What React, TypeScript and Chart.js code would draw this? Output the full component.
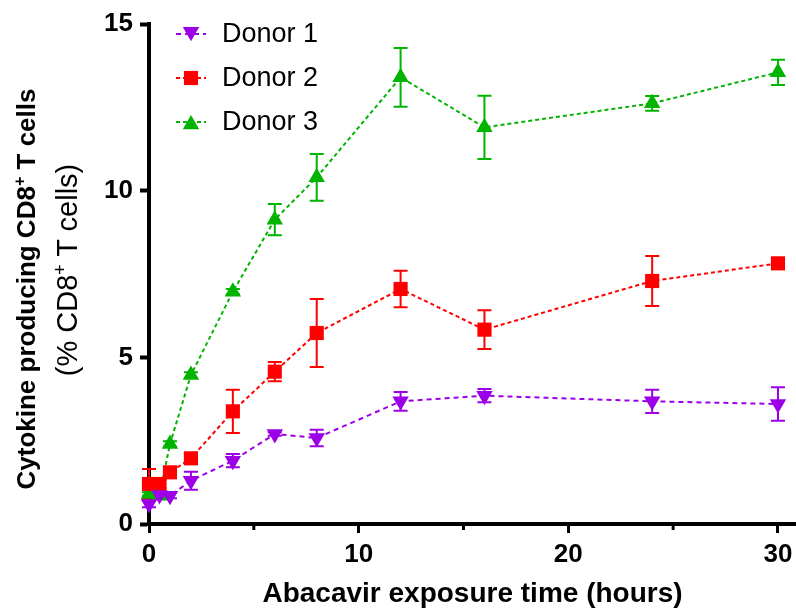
import React, { useEffect, useRef } from 'react';
import { Chart, registerables } from 'chart.js';

Chart.register(...registerables);

// ---------- data ----------
const hours = [0, 0.5, 1, 2, 4, 6, 8, 12, 16, 24, 30];

const donor1Mean = [0.6, 0.87, 0.85, 1.3, 1.9, 2.7, 2.58, 3.68, 3.85, 3.68, 3.6];
const donor1Err = [0.1, 0.08, 0.08, 0.27, 0.2, 0.05, 0.25, 0.28, 0.2, 0.35, 0.5];

const donor2Mean = [1.2, 1.2, 1.55, 1.97, 3.38, 4.57, 5.73, 7.05, 5.83, 7.29, 7.82];
const donor2Err = [0.45, 0.12, 0.12, 0.12, 0.65, 0.29, 1.02, 0.55, 0.58, 0.75, 0.05];

const donor3Mean = [0.9, 0.85, 2.4, 4.47, 6.97, 9.13, 10.4, 13.4, 11.9, 12.62, 13.55];
const donor3Err = [0.05, 0.05, 0.08, 0.08, 0.08, 0.47, 0.7, 0.88, 0.95, 0.22, 0.38];

const seriesNames = ['Donor 1', 'Donor 2', 'Donor 3'];
const seriesColors = ['#9c00e8', '#ff0000', '#00b400'];

const xTickValues = [0, 5, 10, 15, 20, 25, 30];
const xTickLabels = ['0', '', '10', '', '20', '', '30'];
const yTickValues = [0, 5, 10, 15];

const xTitle = 'Abacavir exposure time (hours)';

// ---------- helpers ----------
const FONT = "'Liberation Sans', Arial, Helvetica, sans-serif";
const TICK_FONT = "'Liberation Sans Narrow', 'Liberation Sans', Arial, sans-serif";

function drawMarker(ctx: CanvasRenderingContext2D, style: string, x: number, y: number, r: number, rotDeg: number, color: string) {
  ctx.save();
  ctx.fillStyle = color;
  ctx.beginPath();
  if (style === 'rect') {
    const s = Math.SQRT1_2 * r;
    ctx.rect(x - s, y - s, 2 * s, 2 * s);
  } else {
    let rad = (rotDeg * Math.PI) / 180;
    ctx.moveTo(x + Math.sin(rad) * r, y - Math.cos(rad) * r);
    rad += (2 * Math.PI) / 3;
    ctx.lineTo(x + Math.sin(rad) * r, y - Math.cos(rad) * r);
    rad += (2 * Math.PI) / 3;
    ctx.lineTo(x + Math.sin(rad) * r, y - Math.cos(rad) * r);
    ctx.closePath();
  }
  ctx.fill();
  ctx.restore();
}

const errorBarPlugin = {
  id: 'errorBars',
  beforeDatasetsDraw(chart: any) {
    const { ctx, scales } = chart;
    const xs = scales.x;
    const ys = scales.y;
    chart.data.datasets.forEach((ds: any) => {
      const errs: number[] = ds.errors;
      ctx.save();
      ctx.strokeStyle = ds.borderColor;
      ctx.lineWidth = 2;
      ctx.setLineDash([]);
      ds.data.forEach((p: any, j: number) => {
        const e = errs[j];
        if (!e) return;
        const px = xs.getPixelForValue(p.x);
        const top = ys.getPixelForValue(p.y + e);
        const bot = ys.getPixelForValue(p.y - e);
        const cap = 7;
        ctx.beginPath();
        ctx.moveTo(px, top);
        ctx.lineTo(px, bot);
        ctx.moveTo(px - cap, top);
        ctx.lineTo(px + cap, top);
        ctx.moveTo(px - cap, bot);
        ctx.lineTo(px + cap, bot);
        ctx.stroke();
      });
      ctx.restore();
    });
  },
};

const minorTickPlugin = {
  id: 'minorTicks',
  afterDraw(chart: any) {
    const { ctx } = chart;
    const xs = chart.scales.x;
    ctx.save();
    ctx.strokeStyle = '#000';
    ctx.lineWidth = 3;
    xTickValues.forEach((v, i) => {
      if (xTickLabels[i] !== '') return;
      const px = xs.getPixelForValue(v);
      ctx.beginPath();
      ctx.moveTo(px, xs.top);
      ctx.lineTo(px, xs.top + 6);
      ctx.stroke();
    });
    ctx.restore();
  },
};

const legendPlugin = {
  id: 'insideLegend',
  afterDraw(chart: any) {
    const { ctx } = chart;
    chart.data.datasets.forEach((ds: any, i: number) => {
      const cy = 34 + i * 44;
      ctx.save();
      ctx.strokeStyle = ds.borderColor;
      ctx.lineWidth = 2;
      ctx.setLineDash(ds.borderDash);
      ctx.beginPath();
      ctx.moveTo(176, cy);
      ctx.lineTo(206, cy);
      ctx.stroke();
      ctx.setLineDash([]);
      const r = ds.pointRadius;
      const shift = ds.pointStyle === 'rect' ? 0 : (ds.pointRotation === 180 ? -r / 4 : r / 4);
      drawMarker(ctx, ds.pointStyle, 191, cy + shift, r, ds.pointRotation || 0, ds.backgroundColor);
      ctx.fillStyle = '#000';
      ctx.font = `27px ${FONT}`;
      ctx.textBaseline = 'middle';
      ctx.textAlign = 'left';
      ctx.fillText(ds.label, 222, cy + 1);
      ctx.restore();
    });
  },
};

function makeDataset(i: number, means: number[], errs: number[], style: string, radius: number, rotation: number, dash: number[]) {
  return {
    label: seriesNames[i],
    data: hours.map((h, j) => ({ x: h, y: means[j] })),
    errors: errs,
    borderColor: seriesColors[i],
    backgroundColor: seriesColors[i],
    borderWidth: 2,
    borderDash: dash,
    pointStyle: style,
    pointRadius: radius,
    pointHoverRadius: radius,
    pointRotation: rotation,
    pointBorderWidth: 0,
    pointBackgroundColor: seriesColors[i],
    tension: 0,
    clip: false as any,
  };
}

export default function App() {
  const canvasRef = useRef<HTMLCanvasElement | null>(null);

  useEffect(() => {
    document.body.style.margin = '0';
    const canvas = canvasRef.current;
    if (!canvas) return;
    const chart = new Chart(canvas, {
      type: 'line',
      data: {
        datasets: [
          makeDataset(0, donor1Mean, donor1Err, 'triangle', 9.5, 180, [5, 4]),
          makeDataset(1, donor2Mean, donor2Err, 'rect', 10, 0, [4, 3]),
          makeDataset(2, donor3Mean, donor3Err, 'triangle', 9.5, 0, [4, 3]),
        ] as any,
      },
      options: {
        responsive: false,
        animation: false,
        events: [],
        layout: { autoPadding: false, padding: { top: 24, left: 0, right: 0, bottom: 0 } },
        plugins: {
          legend: { display: false },
          tooltip: { enabled: false },
        },
        scales: {
          x: {
            type: 'linear',
            min: 0,
            max: 30.86,
            afterFit(scale: any) {
              scale.height = 84;
              scale.paddingLeft = 0;
              scale.paddingRight = 0;
            },
            afterBuildTicks(scale: any) {
              scale.ticks = xTickValues.map((v) => ({ value: v }));
            },
            ticks: {
              autoSkip: false,
              maxRotation: 0,
              padding: 6,
              color: '#000',
              font: { family: TICK_FONT, size: 26, weight: 'bold' },
              callback: (v: any) => {
                const i = xTickValues.indexOf(Number(v));
                return i >= 0 ? xTickLabels[i] : '';
              },
            },
            grid: {
              display: true,
              drawOnChartArea: false,
              drawTicks: true,
              tickLength: 9,
              tickWidth: 3,
              tickColor: (c: any) => (c.tick && Number(c.tick.value) % 10 === 0 ? '#000' : 'rgba(0,0,0,0)'),
            },
            border: { display: true, color: '#000', width: 4 },
            title: {
              display: true,
              text: xTitle,
              color: '#000',
              font: { family: FONT, size: 28, weight: 'bold', lineHeight: 1 },
              padding: { top: 0, bottom: 0 },
            },
          },
          y: {
            type: 'linear',
            min: 0,
            max: 15,
            afterFit(scale: any) {
              scale.width = 149;
              scale.paddingTop = 0;
              scale.paddingBottom = 0;
            },
            afterBuildTicks(scale: any) {
              scale.ticks = yTickValues.map((v) => ({ value: v }));
            },
            ticks: {
              padding: 7,
              color: '#000',
              font: { family: TICK_FONT, size: 26, weight: 'bold' },
            },
            grid: {
              display: true,
              drawOnChartArea: false,
              drawTicks: true,
              tickLength: 9,
              tickWidth: 4,
              tickColor: '#000',
            },
            border: { display: true, color: '#000', width: 4 },
          },
        },
      },
      plugins: [errorBarPlugin, minorTickPlugin, legendPlugin],
    });
    return () => {
      chart.destroy();
    };
  }, []);

  const titleBase: React.CSSProperties = {
    position: 'absolute',
    transform: 'translate(-50%, -50%) rotate(-90deg)',
    whiteSpace: 'nowrap',
    color: '#000',
    fontFamily: FONT,
    lineHeight: 1,
  };
  const supStyle: React.CSSProperties = { fontSize: '0.62em', verticalAlign: 'super', lineHeight: 0 };

  return (
    <div style={{ position: 'relative', width: 796, height: 608, overflow: 'hidden', background: '#fff' }}>
      <canvas ref={canvasRef} width={796} height={608} style={{ display: 'block', width: 796, height: 608 }} />
      <div style={{ ...titleBase, left: 26, top: 289, fontSize: 26, fontWeight: 'bold' }}>
        Cytokine producing CD8<sup style={supStyle}>+</sup> T cells
      </div>
      <div style={{ ...titleBase, left: 67, top: 270, fontSize: 29, fontWeight: 'normal' }}>
        (% CD8<sup style={supStyle}>+</sup> T cells)
      </div>
    </div>
  );
}
